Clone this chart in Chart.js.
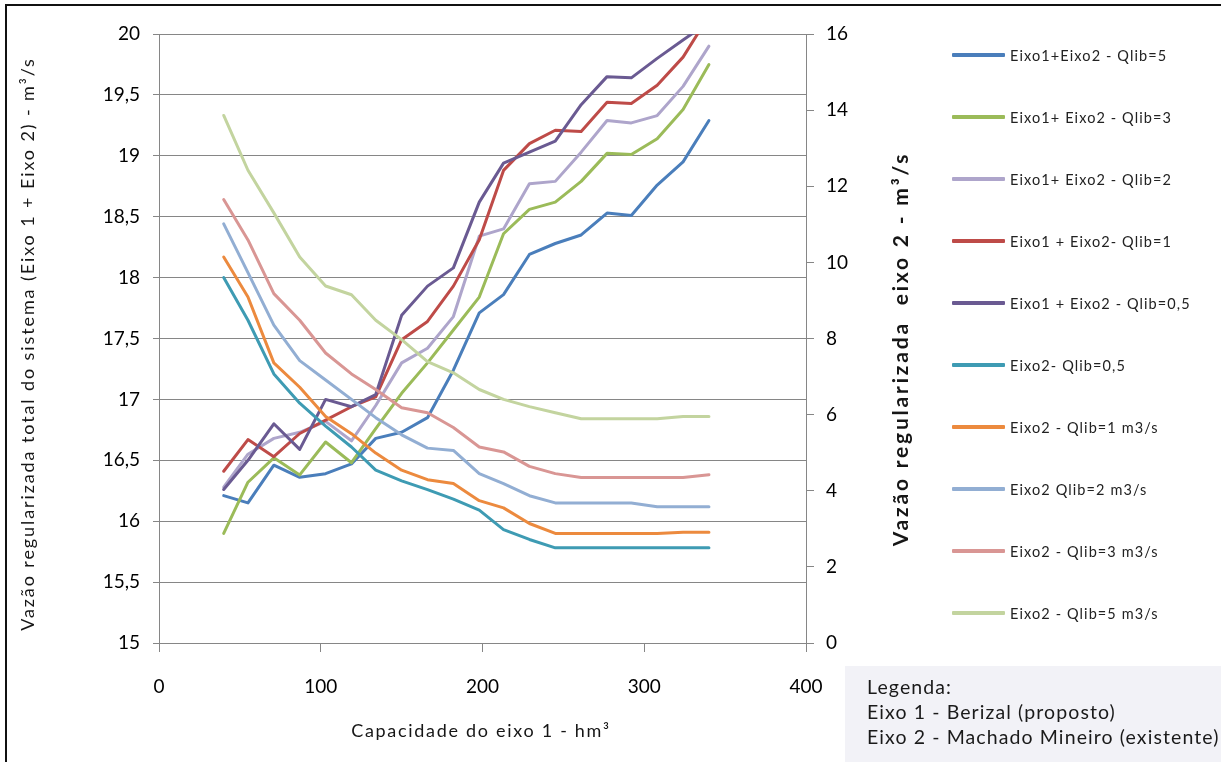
<!DOCTYPE html>
<html>
<head>
<meta charset="utf-8">
<script src="https://cdn.jsdelivr.net/npm/chart.js@4.4.1/dist/chart.umd.min.js"></script>
<style>
  html, body { margin: 0; padding: 0; background: #fff; }
  #wrap { position: relative; width: 1221px; height: 762px; overflow: hidden; background: #fff; font-family: Lato, "Open Sans", sans-serif; }
  #frame { position: absolute; left: 5px; top: 4px; width: 1400px; height: 900px; border-left: 2px solid #111; border-top: 2px solid #111; box-sizing: border-box; }
  canvas { position: absolute; left: 0; top: 0; }
  .item { position: absolute; left: 952px; height: 20px; display: flex; align-items: center; }
  .sw { width: 53px; height: 4px; border-radius: 1px; }
  .lb { margin-left: 5px; font-size: 14.5px; letter-spacing: 1.1px; color: #222; white-space: nowrap; }
  #note { position: absolute; left: 845px; top: 666px; width: 420px; height: 140px; background: #f2f2f7; }
  #note div { position: absolute; left: 22px; font-size: 19.5px; letter-spacing: 1.1px; color: #1a1a1a; white-space: nowrap; line-height: 22px; }
</style>
</head>
<body>
<div id="wrap">
  <canvas id="c" width="1221" height="762"></canvas>
  <div id="frame"></div>
  <div id="legend"></div>
  <div id="note">
    <div style="top:10px">Legenda:</div>
    <div style="top:35px">Eixo 1 - Berizal (proposto)</div>
    <div style="top:60px">Eixo 2 - Machado Mineiro (existente)</div>
  </div>
</div>
<script>
// Capacidade do eixo 1 (hm³)
const capacity = [40, 55, 71, 87, 103, 119, 134, 150, 166, 182, 198, 213, 229, 245, 261, 277, 292, 308, 324, 340];

// Vazão regularizada total do sistema (Eixo 1 + Eixo 2), m³/s
const total_q5  = [16.21, 16.15, 16.46, 16.36, 16.39, 16.47, 16.68, 16.73, 16.85, 17.24, 17.71, 17.86, 18.19, 18.28, 18.35, 18.53, 18.51, 18.76, 18.95, 19.29];
const total_q3  = [15.90, 16.32, 16.52, 16.38, 16.65, 16.48, 16.76, 17.05, 17.30, 17.57, 17.84, 18.36, 18.56, 18.62, 18.79, 19.02, 19.01, 19.14, 19.38, 19.75];
const total_q2  = [16.28, 16.55, 16.68, 16.73, 16.82, 16.66, 16.95, 17.30, 17.42, 17.68, 18.34, 18.40, 18.77, 18.79, 19.03, 19.29, 19.27, 19.33, 19.57, 19.90];
const total_q1  = [16.41, 16.67, 16.53, 16.72, 16.83, 16.94, 17.02, 17.49, 17.64, 17.93, 18.31, 18.88, 19.10, 19.21, 19.20, 19.44, 19.43, 19.58, 19.81, 20.15];
const total_q05 = [16.26, 16.50, 16.80, 16.59, 17.00, 16.94, 17.04, 17.69, 17.93, 18.08, 18.62, 18.94, 19.03, 19.12, 19.42, 19.65, 19.64, 19.80, 19.95, 20.10];

// Vazão regularizada do eixo 2, m³/s
const eixo2_q05 = [9.60, 8.48, 7.07, 6.30, 5.70, 5.15, 4.54, 4.26, 4.03, 3.78, 3.49, 2.98, 2.72, 2.50, 2.50, 2.50, 2.50, 2.50, 2.50, 2.50];
const eixo2_q1  = [10.14, 9.09, 7.36, 6.72, 5.95, 5.50, 4.99, 4.54, 4.29, 4.19, 3.74, 3.55, 3.14, 2.88, 2.88, 2.88, 2.88, 2.88, 2.91, 2.91];
const eixo2_q2  = [11.01, 9.73, 8.35, 7.42, 6.91, 6.40, 5.92, 5.47, 5.12, 5.06, 4.45, 4.19, 3.87, 3.68, 3.68, 3.68, 3.68, 3.58, 3.58, 3.58];
const eixo2_q3  = [11.65, 10.59, 9.18, 8.48, 7.62, 7.07, 6.66, 6.18, 6.05, 5.66, 5.15, 5.02, 4.64, 4.45, 4.35, 4.35, 4.35, 4.35, 4.35, 4.42];
const eixo2_q5  = [13.86, 12.42, 11.30, 10.14, 9.38, 9.15, 8.48, 7.97, 7.39, 7.10, 6.66, 6.40, 6.21, 6.05, 5.89, 5.89, 5.89, 5.89, 5.95, 5.95];

const seriesLabels = [
  'Eixo1+Eixo2 - Qlib=5',
  'Eixo1+ Eixo2 - Qlib=3',
  'Eixo1+ Eixo2 - Qlib=2',
  'Eixo1 + Eixo2- Qlib=1',
  'Eixo1 + Eixo2 - Qlib=0,5',
  'Eixo2- Qlib=0,5',
  'Eixo2 - Qlib=1 m3/s',
  'Eixo2 Qlib=2 m3/s',
  'Eixo2 - Qlib=3 m3/s',
  'Eixo2 - Qlib=5 m3/s'
];

// Tick values of the three axes
const capTicks = [0, 100, 200, 300, 400];
const totalTicks = [15, 15.5, 16, 16.5, 17, 17.5, 18, 18.5, 19, 19.5, 20];
const eixo2Ticks = [0, 2, 4, 6, 8, 10, 12, 14, 16];

const titleTotal = 'Vazão regularizada total do sistema (Eixo 1 + Eixo 2) - m³/s';
const titleEixo2 = 'Vazão regularizada  eixo 2 - m³/s';
const titleCap = 'Capacidade do eixo 1 - hm³';

const colors = ['#4a7ebb', '#9bbb59', '#aea5cb', '#be4b48', '#6a5a92',
                '#3e9bb3', '#ec8a3e', '#92aed3', '#d99694', '#c3d49f'];
const values = [total_q5, total_q3, total_q2, total_q1, total_q05,
                eixo2_q05, eixo2_q1, eixo2_q2, eixo2_q3, eixo2_q5];

const datasets = values.map((vals, i) => ({
  label: seriesLabels[i],
  data: vals.map((v, k) => ({ x: capacity[k], y: v })),
  borderColor: colors[i],
  backgroundColor: colors[i],
  yAxisID: i < 5 ? 'y' : 'y1',
  order: values.length - i
}));

const tickFont = { family: 'Lato', size: 19 };
const axisGrey = '#868686';

const axisTitles = {
  id: 'axisTitles',
  afterDraw(chart) {
    const ctx = chart.ctx;
    ctx.save();
    ctx.fillStyle = '#161616';
    ctx.textAlign = 'center';
    ctx.textBaseline = 'middle';
    // left axis title
    ctx.save();
    ctx.font = '18px Lato';
    ctx.letterSpacing = '1.9px';
    ctx.translate(28, 344);
    ctx.rotate(-Math.PI / 2);
    ctx.fillText(titleTotal, 0, 0);
    ctx.restore();
    // right axis title
    ctx.save();
    ctx.font = 'bold 21px Lato';
    ctx.letterSpacing = '2.8px';
    ctx.translate(901, 349);
    ctx.rotate(-Math.PI / 2);
    ctx.fillText(titleEixo2, 0, 0);
    ctx.restore();
    // x axis title
    ctx.font = '18px Lato';
    ctx.letterSpacing = '1.7px';
    ctx.fillText(titleCap, 481, 731);
    ctx.restore();
  }
};

const chart = new Chart(document.getElementById('c'), {
  type: 'line',
  data: { datasets },
  plugins: [axisTitles],
  options: {
    responsive: false,
    animation: false,
    layout: { padding: { left: 0, right: 0, top: 34, bottom: 0 } },
    plugins: { legend: { display: false }, tooltip: { enabled: false } },
    elements: { point: { radius: 0 }, line: { borderWidth: 3, tension: 0, borderCapStyle: 'round', borderJoinStyle: 'round' } },
    scales: {
      x: {
        type: 'linear', min: 0, max: 400,
        afterBuildTicks: s => { s.ticks = capTicks.map(v => ({ value: v })); },
        afterFit: s => { s.height = 119; },
        grid: { drawOnChartArea: false, drawTicks: true, tickLength: 9, color: axisGrey },
        border: { color: axisGrey, width: 1 },
        ticks: { font: tickFont, color: '#000', padding: 23, maxRotation: 0 }
      },
      y: {
        position: 'left', min: 15, max: 20,
        afterBuildTicks: s => { s.ticks = totalTicks.map(v => ({ value: v })); },
        afterFit: s => { s.width = 159; },
        grid: { color: axisGrey, tickLength: 6 },
        border: { color: axisGrey, width: 1 },
        ticks: { font: tickFont, color: '#000', padding: 13, callback: v => String(v).replace('.', ',') }
      },
      y1: {
        position: 'right', min: 0, max: 16,
        afterBuildTicks: s => { s.ticks = eixo2Ticks.map(v => ({ value: v })); },
        afterFit: s => { s.width = 415; },
        grid: { drawOnChartArea: false, tickLength: 8, color: axisGrey },
        border: { color: axisGrey, width: 1 },
        ticks: { font: tickFont, color: '#000', padding: 12 }
      }
    }
  }
});

// legend list built from the chart's datasets
const legend = document.getElementById('legend');
chart.data.datasets.forEach((ds, i) => {
  const item = document.createElement('div');
  item.className = 'item';
  item.style.top = (55 + 62 * i - 10) + 'px';
  const sw = document.createElement('div');
  sw.className = 'sw';
  sw.style.background = ds.borderColor;
  const lb = document.createElement('div');
  lb.className = 'lb';
  lb.textContent = ds.label;
  item.appendChild(sw);
  item.appendChild(lb);
  legend.appendChild(item);
});
</script>
</body>
</html>
